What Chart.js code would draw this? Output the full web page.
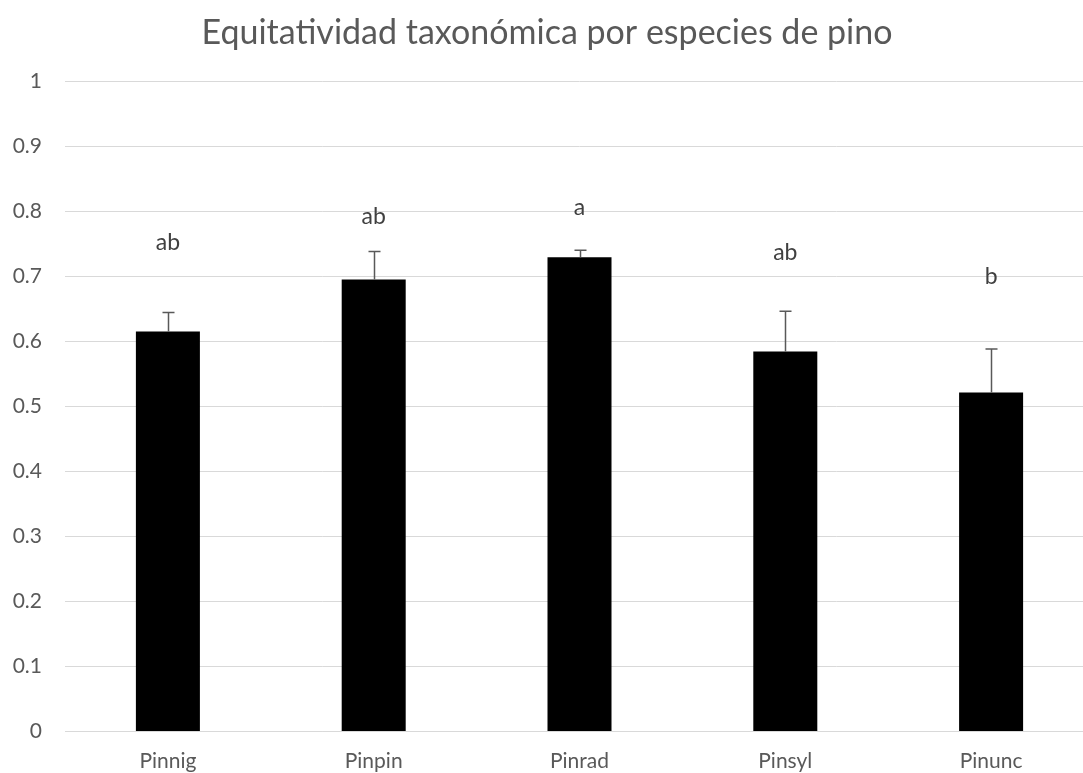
<!DOCTYPE html>
<html>
<head>
<meta charset="utf-8">
<script src="https://cdn.jsdelivr.net/npm/chart.js@4.4.1/dist/chart.umd.min.js"></script>
<style>
  html, body { margin: 0; padding: 0; background: #fff; overflow: hidden; }
  #wrap { position: absolute; left: 0; top: 0; width: 1112px; height: 785px; }
</style>
</head>
<body>
<div id="wrap"><canvas id="c" width="1112" height="785"></canvas></div>
<script>
// Pine species and mean taxonomic evenness
const species = ['Pinnig', 'Pinpin', 'Pinrad', 'Pinsyl', 'Pinunc'];
const evenness = [0.615, 0.695, 0.729, 0.584, 0.521];
// standard error (drawn upward only)
const stdError = [0.029, 0.043, 0.011, 0.062, 0.067];
// significance letters and the level they sit at
const letters = ['ab', 'ab', 'a', 'ab', 'b'];
const letterLevel = [0.752, 0.792, 0.806, 0.737, 0.699];
const yTicks = [0, 0.1, 0.2, 0.3, 0.4, 0.5, 0.6, 0.7, 0.8, 0.9, 1];

const FONT = 'Lato, "Open Sans", sans-serif';

const errorBars = {
  id: 'errorBars',
  afterDatasetsDraw(chart) {
    const { ctx, scales: { y } } = chart;
    const meta = chart.getDatasetMeta(0);
    ctx.save();
    ctx.strokeStyle = '#595959';
    ctx.lineWidth = 1.5;
    meta.data.forEach((bar, i) => {
      const cx = Math.round(bar.x) + 0.5;
      const top = y.getPixelForValue(evenness[i] + stdError[i]);
      const base = y.getPixelForValue(evenness[i]);
      ctx.beginPath();
      ctx.moveTo(cx, base);
      ctx.lineTo(cx, top);
      ctx.moveTo(cx - 6, top);
      ctx.lineTo(cx + 6, top);
      ctx.stroke();
    });
    ctx.fillStyle = '#404040';
    ctx.font = '23px ' + FONT;
    ctx.textAlign = 'center';
    ctx.textBaseline = 'middle';
    meta.data.forEach((bar, i) => {
      ctx.fillText(letters[i], bar.x, y.getPixelForValue(letterLevel[i]));
    });
    ctx.restore();
  }
};

new Chart(document.getElementById('c'), {
  type: 'bar',
  data: {
    labels: species,
    datasets: [{
      data: evenness,
      backgroundColor: '#000000',
      borderWidth: 0,
      barPercentage: 0.311,
      categoryPercentage: 1
    }]
  },
  options: {
    responsive: false,
    animation: false,
    layout: { padding: { left: 0, right: 18, top: 0, bottom: 0 } },
    plugins: {
      legend: { display: false },
      tooltip: { enabled: false },
      title: {
        display: true,
        text: 'Equitatividad taxonómica por especies de pino',
        color: '#595959',
        font: { family: FONT, size: 34, weight: 'normal', lineHeight: 1.2 },
        padding: { top: 13, bottom: 27.2 }
      }
    },
    scales: {
      x: {
        grid: { display: false, drawTicks: false },
        border: { display: true, color: '#d9d9d9', width: 1 },
        ticks: { color: '#595959', font: { family: FONT, size: 21, lineHeight: 1.2 }, padding: 17, maxRotation: 0 },
        afterFit(scale) { scale.height = 53.5; }
      },
      y: {
        min: 0,
        max: 1,
        afterBuildTicks(scale) { scale.ticks = yTicks.map(v => ({ value: v })); },
        grid: { color: '#d9d9d9', lineWidth: 1, drawTicks: false },
        border: { display: false },
        ticks: {
          color: '#595959',
          font: { family: FONT, size: 21 },
          padding: 23,
          callback: v => String(v)
        },
        afterFit(scale) { scale.width = 65; }
      }
    }
  },
  plugins: [errorBars]
});
</script>
</body>
</html>
